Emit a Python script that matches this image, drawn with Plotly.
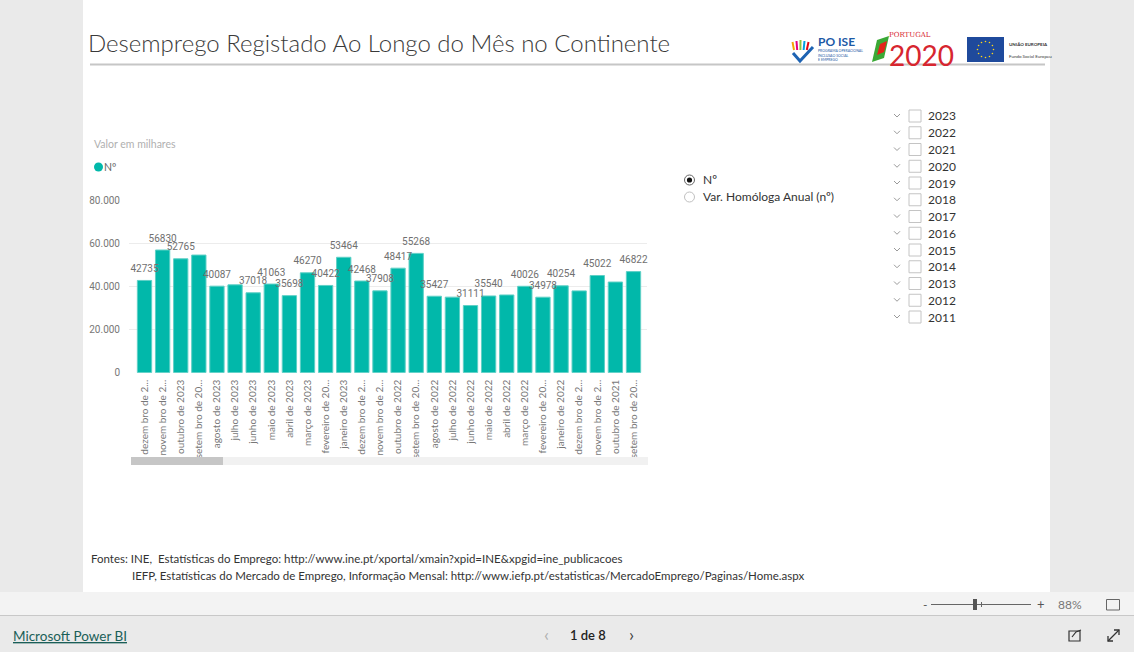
import math
import plotly.graph_objects as go

# ---------------- data ----------------
months = [
    "dezembro de 2023", "novembro de 2023", "outubro de 2023", "setembro de 2023",
    "agosto de 2023", "julho de 2023", "junho de 2023", "maio de 2023",
    "abril de 2023", "março de 2023", "fevereiro de 2023", "janeiro de 2023",
    "dezembro de 2022", "novembro de 2022", "outubro de 2022", "setembro de 2022",
    "agosto de 2022", "julho de 2022", "junho de 2022", "maio de 2022",
    "abril de 2022", "março de 2022", "fevereiro de 2022", "janeiro de 2022",
    "dezembro de 2021", "novembro de 2021", "outubro de 2021", "setembro de 2021",
]
tick_labels = [
    "dezem bro de 2...", "novem bro de 2...", "outubro de 2023", "setem bro de 20...",
    "agosto de 2023", "julho de 2023", "junho de 2023", "maio de 2023",
    "abril de 2023", "março de 2023", "fevereiro de 20...", "janeiro de 2023",
    "dezem bro de 2...", "novem bro de 2...", "outubro de 2022", "setem bro de 20...",
    "agosto de 2022", "julho de 2022", "junho de 2022", "maio de 2022",
    "abril de 2022", "março de 2022", "fevereiro de 20...", "janeiro de 2022",
    "dezem bro de 2...", "novem bro de 2...", "outubro de 2021", "setem bro de 20...",
]
values = [
    42735, 56830, 52765, 54500, 40087, 40700, 37018, 41063,
    35698, 46270, 40422, 53464, 42468, 37908, 48417, 55268,
    35427, 35000, 31111, 35540, 36000, 40026, 34978, 40254,
    37900, 45022, 42000, 46822,
]
# data labels that Power BI shows (overlapping ones are hidden)
data_labels = [
    "42735", "56830", "52765", "", "40087", "", "37018", "41063",
    "35698", "46270", "40422", "53464", "42468", "37908", "48417", "55268",
    "35427", "", "31111", "35540", "", "40026", "34978", "40254",
    "", "45022", "", "46822",
]
y_ticks = [0, 20000, 40000, 60000, 80000]
years = ["2023", "2022", "2021", "2020", "2019", "2018", "2017",
         "2016", "2015", "2014", "2013", "2012", "2011"]
measures = ["Nº", "Var. Homóloga Anual (nº)"]

# ---------------- layout helpers ----------------
W, H = 1134, 652
def X(p):
    return p / W
def Y(p):
    return 1 - p / H

TEAL = "#01B8AA"
UI = "Lato, 'Open Sans', sans-serif"
NUM = "Roboto, sans-serif"

fig = go.Figure()
fig.add_trace(go.Bar(
    x=months, y=values,
    marker=dict(color=TEAL, line=dict(color="#5fd0c6", width=1)),
    hoverinfo="x+y",
))
# data labels drawn on top of all bars (invisible marker adds a small gap)
fig.add_trace(go.Scatter(
    x=months, y=values, mode="markers+text", text=data_labels,
    textposition="top center",
    marker=dict(size=8, color="rgba(0,0,0,0)"),
    textfont=dict(family=NUM, size=10, color="#707070"),
    cliponaxis=False, hoverinfo="skip",
))

shapes = []
annotations = []

def ann(text, x, y, size, color, family=UI, xanchor="left", yanchor="middle", **kw):
    font = dict(family=family, size=size, color=color)
    font.update(kw.pop("font_extra", {}))
    annotations.append(dict(text=text, x=X(x), y=Y(y), xref="paper", yref="paper",
                            xanchor=xanchor, yanchor=yanchor, showarrow=False,
                            font=font, **kw))

def rect(x0, x1, y0, y1, fill, line=None, layer="above"):
    shapes.append(dict(type="rect", xref="paper", yref="paper", layer=layer,
                       x0=X(x0), x1=X(x1), y0=Y(y1), y1=Y(y0),
                       fillcolor=fill, line=line or dict(width=0)))

def path(pts, color, width, fill=None, closed=False):
    d = "M " + " L ".join(f"{X(a)},{Y(b)}" for a, b in pts) + (" Z" if closed else "")
    s = dict(type="path", xref="paper", yref="paper", path=d,
             line=dict(color=color, width=width))
    if fill:
        s["fillcolor"] = fill
    shapes.append(s)

def circle(cx, cy, r, fill, line=None):
    shapes.append(dict(type="circle", xref="paper", yref="paper",
                       x0=X(cx - r), x1=X(cx + r), y0=Y(cy + r), y1=Y(cy - r),
                       fillcolor=fill, line=line or dict(width=0)))

# white report canvas, zoom strip, footer
rect(83, 1050, 0, 592, "white", layer="below")
rect(0, 1134, 592, 615, "#f3f3f3", layer="below")
path([(0, 615.5), (1134, 615.5)], "#c8c8c8", 1)
rect(0, 1134, 616, 652, "#eaeaea", layer="below")

# title + underline
path([(90, 64.5), (1045, 64.5)], "#c6c6c6", 2)
ann("Desemprego Registado Ao Longo do Mês no Continente", 86, 43, 24, "#3a3a3a",
    font_extra=dict(weight=300))

# chart header texts
ann("Valor em milhares", 92, 144, 10.5, "#b0b0b0")
circle(98.5, 167, 4.5, TEAL)
ann("Nº", 102, 167, 10.5, "#666666")

# scrollbar
rect(131, 648, 457, 465, "#f1f1f1")
rect(131, 223, 457, 465, "#c6c6c6")

# radio buttons
radio_y = [180, 197]
for i, (lab, ry) in enumerate(zip(measures, radio_y)):
    circle(689.5, ry, 5, "white",
           dict(color="#666666" if i == 0 else "#c0c0c0", width=1))
    if i == 0:
        circle(689.5, ry, 2.6, "#111111")
    ann(lab, 701, ry, 12, "#333333")

# year slicer
for i, yr in enumerate(years):
    cy = 116 + i * 16.75
    path([(894, cy - 2), (897, cy + 1), (900, cy - 2)], "#9a9a9a", 1)
    rect(909, 921, cy - 6, cy + 6, "white", dict(color="#c4c4c4", width=1))
    ann(yr, 926, cy, 12, "#333333")

# sources
ann("Fontes: INE,  Estatísticas do Emprego: http://www.ine.pt/xportal/xmain?xpid=INE&amp;xpgid=ine_publicacoes",
    89, 558, 11.5, "#333333")
ann("IEFP, Estatísticas do Mercado de Emprego, Informação Mensal: http://www.iefp.pt/estatisticas/MercadoEmprego/Paginas/Home.aspx",
    130, 575, 11.5, "#333333")

# ---- logos (approximations) ----
hand_cols = ["#f4a300", "#e5007e", "#8bc53f", "#00a0e3", "#e30613"]
for k, c in enumerate(hand_cols):
    bx = 794 + k * 3.2
    path([(bx, 50), (bx - 1.5 + k * 0.8, 40 + abs(k - 2))], c, 2)
path([(793, 53), (800, 61), (813, 47)], "#1d63b3", 3)
ann("<b>PO ISE</b>", 816, 42, 12, "#1d5aa6")
ann("PROGRAMA OPERACIONAL<br>INCLUSÃO SOCIAL<br>E EMPREGO", 816, 56, 3.5, "#1d5aa6",
    align="left")
path([(872, 62), (877, 40), (889, 36), (884, 58)], "rgba(0,0,0,0)", 0, fill="#3aa935", closed=True)
path([(877, 55), (880, 44), (887, 41), (884, 52)], "rgba(0,0,0,0)", 0, fill="#e2231a", closed=True)
ann("<span style='font-size:7px;font-family:DejaVu Serif, serif'>PORTUGAL</span><br>"
    "<span style='font-size:28px'>2020</span>",
    887, 52, 22, "#d7262f", align="left")
rect(967, 1004, 37, 62, "#1f4a9c")
for k in range(12):
    a = 2 * math.pi * k / 12
    circle(985.5 + 8 * math.cos(a), 49.5 + 8 * math.sin(a), 0.8, "#ffd617")
ann("<b>UNIÃO EUROPEIA</b><br> <br>Fundo Social Europeu", 1007, 50, 4.5, "#333333",
    align="left")

# ---- zoom control strip ----
ann("-", 925, 604, 12, "#555555", xanchor="center")
path([(931, 604.5), (1031, 604.5)], "#666666", 1)
rect(973, 977, 599, 610, "#555555")
path([(981.5, 602), (981.5, 607)], "#666666", 1)
ann("+", 1041, 604, 13, "#555555", xanchor="center")
ann("88%", 1070, 604.5, 12, "#777777", xanchor="center")
rect(1106.5, 1119.5, 599.5, 610, "rgba(0,0,0,0)", dict(color="#666666", width=1))

# ---- bottom bar ----
ann("<u>Microsoft Power BI</u>", 11, 636, 13.5, "#1b5f58")
ann("‹", 546, 634, 18, "#b0b0b0", xanchor="center")
ann("1 de 8", 588, 635, 13, "#222222", xanchor="center", font_extra=dict(weight=600))
ann("›", 631, 634, 18, "#444444", xanchor="center")
rect(1069, 1080, 631, 641, "rgba(0,0,0,0)", dict(color="#333333", width=1.2))
path([(1072, 637), (1076, 632), (1081, 630)], "#333333", 1.2)
path([(1108, 641), (1119, 630)], "#333333", 1.3)
path([(1108, 636), (1108, 641), (1113, 641)], "#333333", 1.3)
path([(1114, 630), (1119, 630), (1119, 635)], "#333333", 1.3)

fig.update_layout(
    width=W, height=H,
    margin=dict(l=0, r=0, t=0, b=0, pad=0, autoexpand=False),
    paper_bgcolor="#eaeaea",
    plot_bgcolor="rgba(0,0,0,0)",
    separators=",.",
    showlegend=False,
    bargap=0.21,
    shapes=shapes,
    annotations=annotations,
    xaxis=dict(
        domain=[X(129), X(647)],
        range=[-0.856, len(months) - 1 + 0.745],
        tickmode="array", tickvals=months, ticktext=tick_labels,
        tickangle=-90, tickfont=dict(family=UI, size=10, color="#777777"),
        showgrid=False, zeroline=False, showline=False, ticks="",
        ticklabelstandoff=4, automargin=False,
    ),
    yaxis=dict(
        domain=[Y(372.7), Y(200)],
        range=[0, 80000],
        tickmode="array", tickvals=y_ticks, tickformat=",d",
        tickfont=dict(family=NUM, size=10, color="#777777"),
        showgrid=True, gridcolor="#ececec", gridwidth=1,
        zeroline=False, showline=False, ticks="",
        ticklabelstandoff=8, automargin=False,
    ),
)

fig.write_html("out.html", config={"displayModeBar": False},
               post_script="document.body.style.margin='0px';")
